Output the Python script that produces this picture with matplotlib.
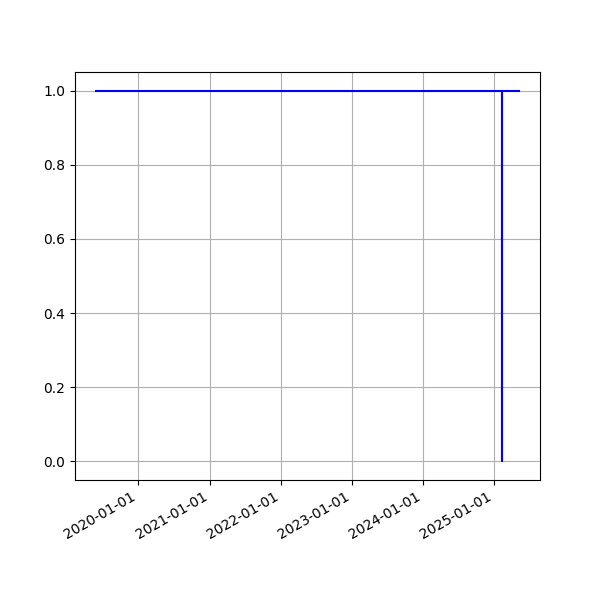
import datetime as dt
import matplotlib
matplotlib.use("Agg")
import matplotlib.pyplot as plt
import matplotlib.dates as mdates

## Status series: 1 = up, 0 = down
dates = [dt.date(2019, 5, 30), dt.date(2025, 2, 10), dt.date(2025, 2, 10),
         dt.date(2025, 2, 10), dt.date(2025, 5, 8)]
status = [1, 1, 0, 1, 1]

fig, ax = plt.subplots(figsize=(6, 6), dpi=100)
ax.plot(dates, status, color="blue")
ax.xaxis.set_major_locator(mdates.YearLocator())
ax.xaxis.set_major_formatter(mdates.DateFormatter("%Y-%m-%d"))
ax.grid()
fig.autofmt_xdate()
fig.savefig("out.png")
